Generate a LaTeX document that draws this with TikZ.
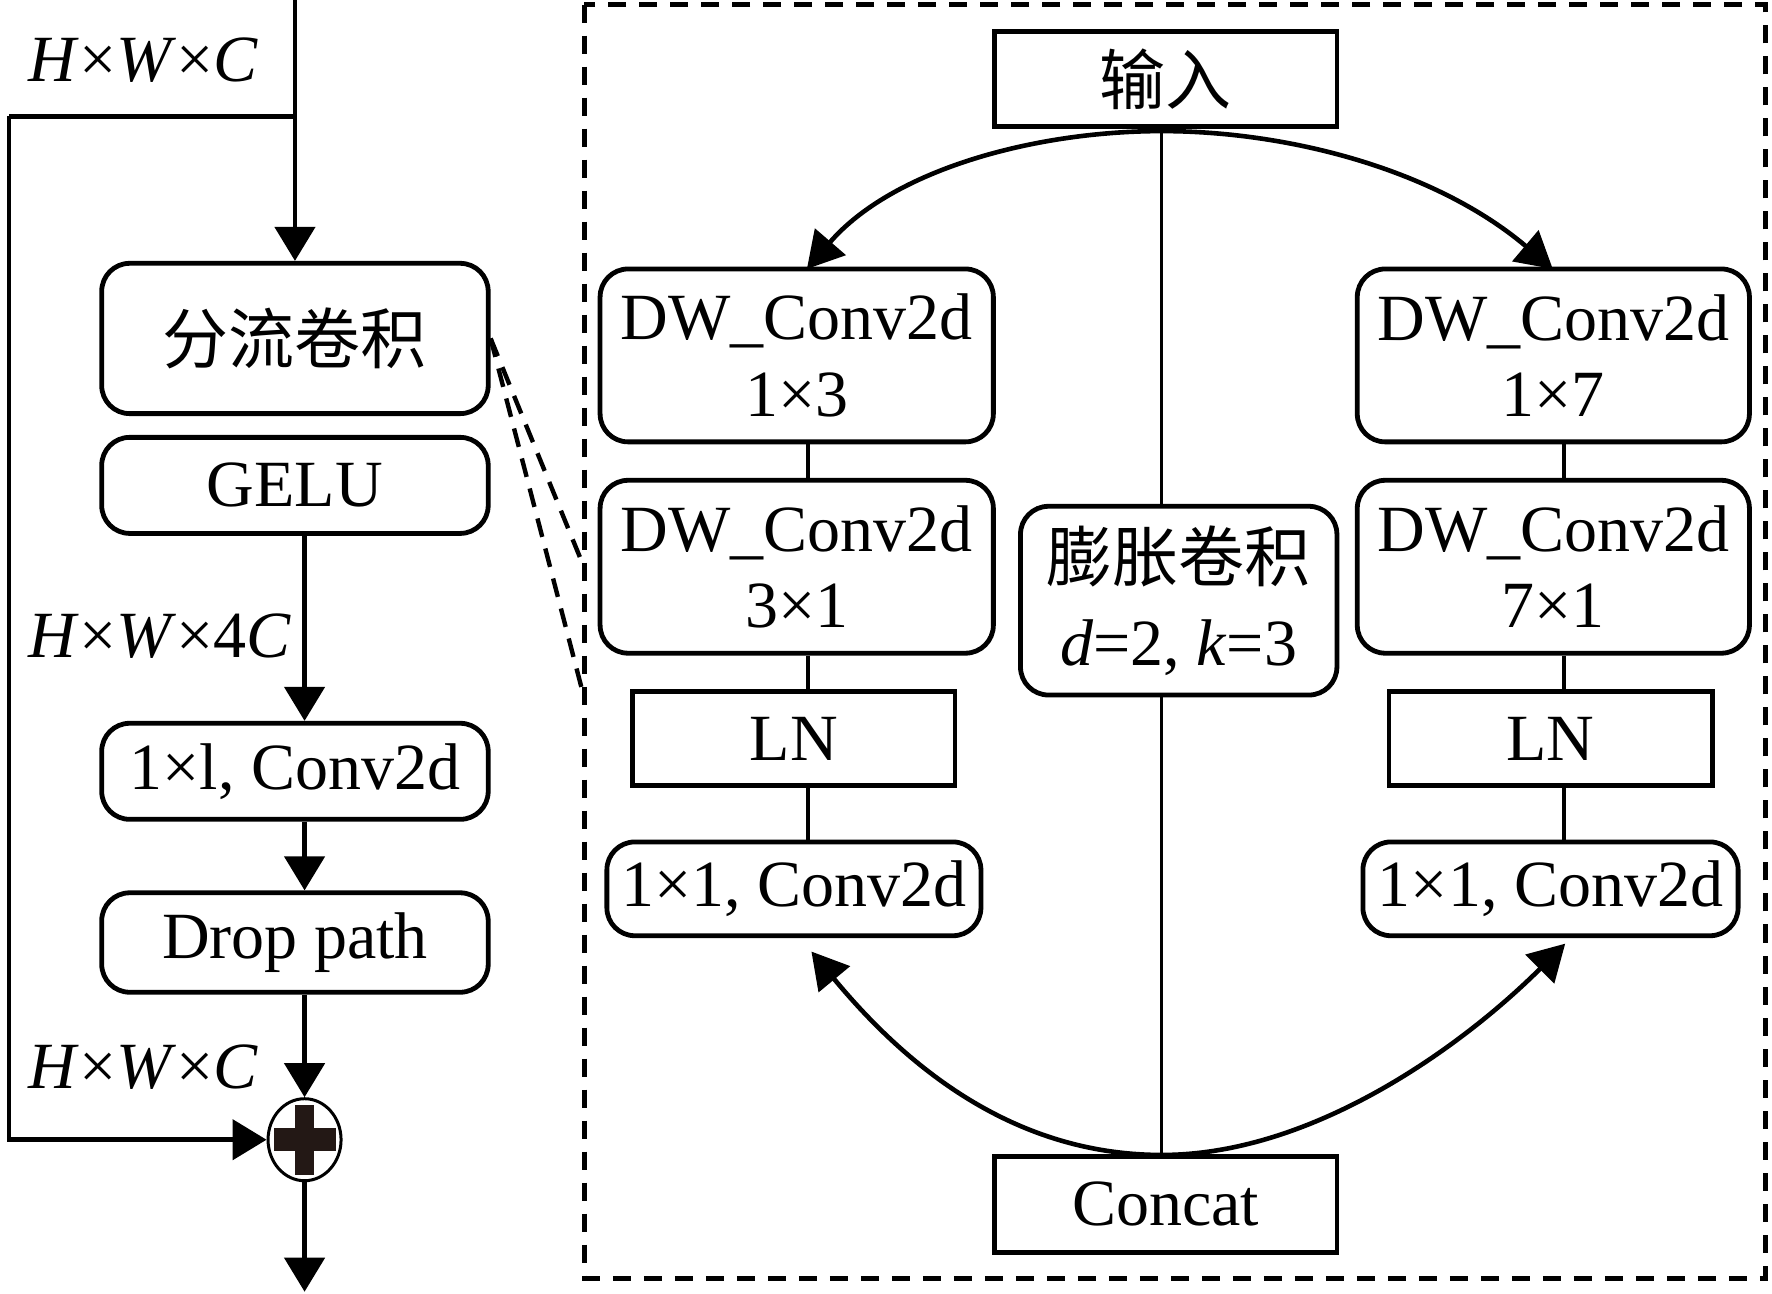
\documentclass[tikz,border=0pt]{standalone}
\usepackage{fontspec}
\setmainfont{Liberation Serif}
\newfontfamily\cjk{Noto Sans CJK SC}
\usetikzlibrary{arrows.meta,shapes.geometric}
\newcommand\uu{0.565pt}
\definecolor{plusc}{HTML}{231815}
\begin{document}
\begin{tikzpicture}[x=0.565pt,y=-0.565pt,
  every node/.style={font=\fontsize{33pt}{38pt}\selectfont, inner sep=0pt},
  rbox/.style={draw, line width=2.4pt, rounded corners=14pt, align=center},
  sbox/.style={draw, line width=2.4pt, align=center},
  arr/.style={line width=2.3pt, -{Triangle[length=17pt,width=20pt]}},
  arcarr/.style={line width=2.3pt, -{Triangle[length=18pt,width=20pt]}},
  conn/.style={line width=1.6pt},
  dashframe/.style={line width=2.6pt, dash pattern=on 9pt off 6.5pt},
  dashlink/.style={line width=2.2pt, dash pattern=on 9.5pt off 6pt},
]
\useasboundingbox (0,0) rectangle (1568,1145);

% ---------- left column ----------
\node[rbox, minimum width=342*\uu, minimum height=133*\uu] (split) at (261,299.5) {\cjk 分流卷积};
\node[rbox, minimum width=342*\uu, minimum height=85*\uu] (gelu) at (261,429.5) {GELU};
\node[rbox, minimum width=342*\uu, minimum height=85*\uu] (convA) at (261,682.5) {1×l, Conv2d};
\node[rbox, minimum width=342*\uu, minimum height=88*\uu] (drop) at (261,834) {Drop path};
\node[draw, ellipse, line width=1.5pt, minimum width=36.5pt, minimum height=41pt] (plus) at (269.5,1008.5) {};
\fill[plusc] ([shift={(-15.5pt,-5.75pt)}]plus.center) rectangle ([shift={(15.5pt,5.75pt)}]plus.center);
\fill[plusc] ([shift={(-4.75pt,-17.5pt)}]plus.center) rectangle ([shift={(4.75pt,17.5pt)}]plus.center);

\node[anchor=base west] (lab1) at (25,72) {\textit{H}×\textit{W}×\textit{C}};
\node[anchor=base west] (lab2) at (25,582) {\textit{H}×\textit{W}×4\textit{C}};
\node[anchor=base west] (lab3) at (25,963) {\textit{H}×\textit{W}×\textit{C}};

\coordinate (top) at (261,0);
\coordinate (brk) at (261,103);
\coordinate (sk1) at (8,103);
\coordinate (outp) at (269.5,1143);

\draw[arr] (top) -- (split.north);
\draw[line width=2.3pt] (brk) -- (sk1);
\draw[arr] (sk1) -- (sk1 |- plus.west) -- (plus.west);
\draw[arr] (gelu.south -| plus.north) -- (convA.north -| plus.north);
\draw[arr] (convA.south -| plus.north) -- (drop.north -| plus.north);
\draw[arr] (drop.south -| plus.north) -- (plus.north);
\draw[arr] (plus.south) -- (outp);

% ---------- right panel ----------
\draw[dashframe] (517,4) rectangle (1562,1131);

\node[sbox, minimum width=303*\uu, minimum height=84*\uu] (inp) at (1031.5,70) {\cjk 输入};
\node[rbox, minimum width=348*\uu, minimum height=153*\uu] (dwA) at (705,314.5) {DW\_Conv2d\\1×3};
\node[rbox, minimum width=348*\uu, minimum height=153*\uu] (dwB) at (705,501.5) {DW\_Conv2d\\3×1};
\node[sbox, minimum width=285*\uu, minimum height=83*\uu] (lnA) at (702.5,653.5) {LN};
\node[rbox, minimum width=331*\uu, minimum height=83*\uu] (cvA) at (702.5,786.5) {1×1, Conv2d};

\node[rbox, minimum width=347*\uu, minimum height=153*\uu] (dwC) at (1374.5,314.5) {DW\_Conv2d\\1×7};
\node[rbox, minimum width=347*\uu, minimum height=153*\uu] (dwD) at (1374.5,501.5) {DW\_Conv2d\\7×1};
\node[sbox, minimum width=286*\uu, minimum height=83*\uu] (lnB) at (1372,653.5) {LN};
\node[rbox, minimum width=332*\uu, minimum height=83*\uu] (cvB) at (1372,786.5) {1×1, Conv2d};

\node[rbox, minimum width=280*\uu, minimum height=167*\uu] (dil) at (1043,531.5) {{\cjk 膨胀卷积}\\[4pt]\textit{d}=2, \textit{k}=3};
\node[sbox, minimum width=303*\uu, minimum height=85*\uu] (cat) at (1031.5,1065.5) {Concat};

\coordinate (colL) at (715,0);
\coordinate (colR) at (1384,0);
\coordinate (colC) at (1028,0);
\coordinate (apexT) at (1028,116);
\coordinate (apexB) at (1028,1022);
\coordinate (tipTL) at (714,238);
\coordinate (tipTR) at (1374,238);
\coordinate (tipBL) at (718,842);
\coordinate (tipBR) at (1385,835);

\draw[conn] (dwA.south -| colL) -- (dwB.north -| colL);
\draw[conn] (dwB.south -| colL) -- (lnA.north -| colL);
\draw[conn] (lnA.south -| colL) -- (cvA.north -| colL);
\draw[conn] (dwC.south -| colR) -- (dwD.north -| colR);
\draw[conn] (dwD.south -| colR) -- (lnB.north -| colR);
\draw[conn] (lnB.south -| colR) -- (cvB.north -| colR);
\draw[conn] (inp.south -| colC) -- (dil.north -| colC);
\draw[conn] (dil.south -| colC) -- (cat.north -| colC);

\draw[arcarr] (apexT) .. controls (916,116) and (790,150) .. (tipTL);
\draw[arcarr] (apexT) .. controls (1140,116) and (1270,150) .. (tipTR);
\draw[arcarr] (apexB) .. controls (890,1022) and (795,935) .. (tipBL);
\draw[arcarr] (apexB) .. controls (1166,1022) and (1300,920) .. (tipBR);

% ---------- zoom links ----------
\coordinate (z1) at (516,500);
\coordinate (z2) at (516,614);
\draw[dashlink] (split.east) -- (z1);
\draw[dashlink] (split.east) -- (z2);
\end{tikzpicture}
\end{document}
